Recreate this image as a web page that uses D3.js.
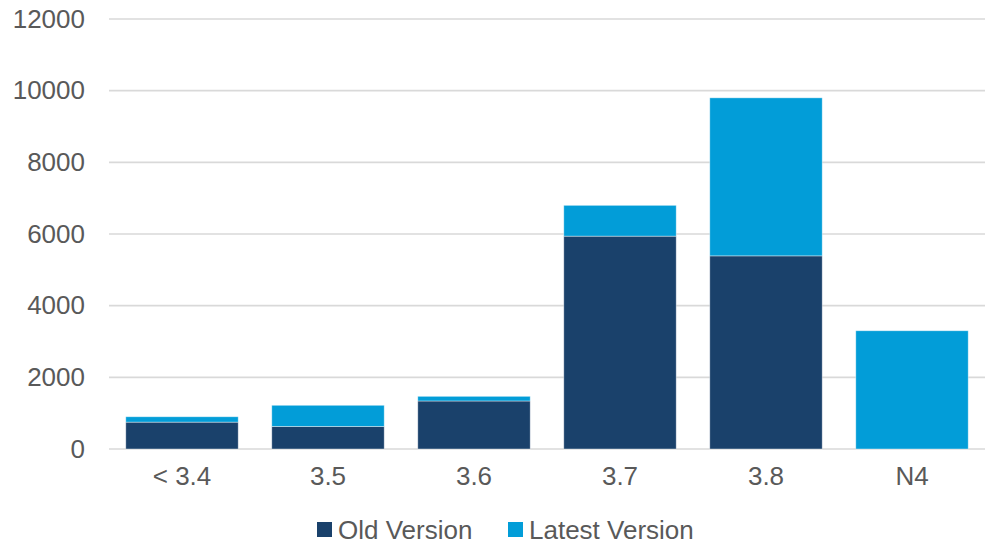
<!DOCTYPE html>
<html>
<head>
<meta charset="utf-8">
<script src="https://cdn.jsdelivr.net/npm/d3@7"></script>
<style>
  body { margin: 0; background: #fff; }
  text { font-family: "Liberation Sans", Arial, sans-serif; fill: #595959; }
</style>
</head>
<body>
<svg id="chart" width="986" height="545"></svg>
<script>
// データ
const categories = ["< 3.4", "3.5", "3.6", "3.7", "3.8", "N4"];
const oldVersion = [750, 630, 1340, 5940, 5390, 0];
const latestVersion = [150, 590, 130, 860, 4410, 3300];
const seriesNames = ["Old Version", "Latest Version"];
const yTicks = [0, 2000, 4000, 6000, 8000, 10000, 12000];

const colors = ["#1a416b", "#029dd8"];

const svg = d3.select("#chart");
const width = 986, height = 545;
const margin = { top: 19, right: 1, bottom: 96, left: 109 };

const rows = categories.map((c, i) => ({ cat: c, old: oldVersion[i], latest: latestVersion[i] }));
const stack = d3.stack().keys(["old", "latest"]);
const series = stack(rows);

const x = d3.scaleBand()
    .domain(categories)
    .range([margin.left, width - margin.right])
    .paddingInner(0.23)
    .paddingOuter(0.115);

const y = d3.scaleLinear()
    .domain([0, 12000])
    .range([height - margin.bottom, margin.top]);

// グリッド線
svg.append("g")
    .selectAll("line")
    .data(yTicks)
    .join("line")
    .attr("x1", margin.left)
    .attr("x2", width - margin.right)
    .attr("y1", d => y(d))
    .attr("y2", d => y(d))
    .attr("stroke", "#d9d9d9")
    .attr("stroke-width", 1.6);

// Y軸ラベル
const yAxis = d3.axisLeft(y).tickValues(yTicks).tickSize(0).tickPadding(0).tickFormat(d3.format("d"));
svg.append("g")
    .attr("transform", `translate(${margin.left - 24},0)`)
    .call(yAxis)
    .call(g => g.select(".domain").remove())
    .selectAll("text")
    .attr("font-size", 26)
    .attr("fill", "#595959")
    .style("font-family", "Liberation Sans, Arial, sans-serif");

// 積み上げ棒
svg.append("g")
    .selectAll("g")
    .data(series)
    .join("g")
    .attr("fill", (d, i) => colors[i])
    .selectAll("rect")
    .data(d => d.filter(s => s[1] - s[0] > 0))
    .join("rect")
    .attr("x", d => x(d.data.cat))
    .attr("y", d => y(d[1]))
    .attr("width", x.bandwidth())
    .attr("height", d => y(d[0]) - y(d[1]))
    .attr("stroke", "rgba(255,255,255,0.5)")
    .attr("stroke-width", 0.8);

// X軸ラベル
const xAxis = d3.axisBottom(x).tickSize(0).tickPadding(0);
svg.append("g")
    .attr("transform", `translate(0,${y(0) + 18})`)
    .call(xAxis)
    .call(g => g.select(".domain").remove())
    .selectAll("text")
    .attr("font-size", 26)
    .attr("fill", "#595959")
    .style("font-family", "Liberation Sans, Arial, sans-serif");

// 凡例
const legendX = [317, 508];
const legend = svg.append("g")
    .selectAll("g")
    .data(seriesNames)
    .join("g")
    .attr("transform", (d, i) => `translate(${legendX[i]},530)`);

legend.append("rect")
    .attr("x", 0)
    .attr("y", -8)
    .attr("width", 15)
    .attr("height", 15)
    .attr("fill", (d, i) => colors[i]);

legend.append("text")
    .attr("x", 21)
    .attr("y", 0)
    .attr("dy", "0.35em")
    .attr("font-size", 26)
    .text(d => d);
</script>
</body>
</html>
